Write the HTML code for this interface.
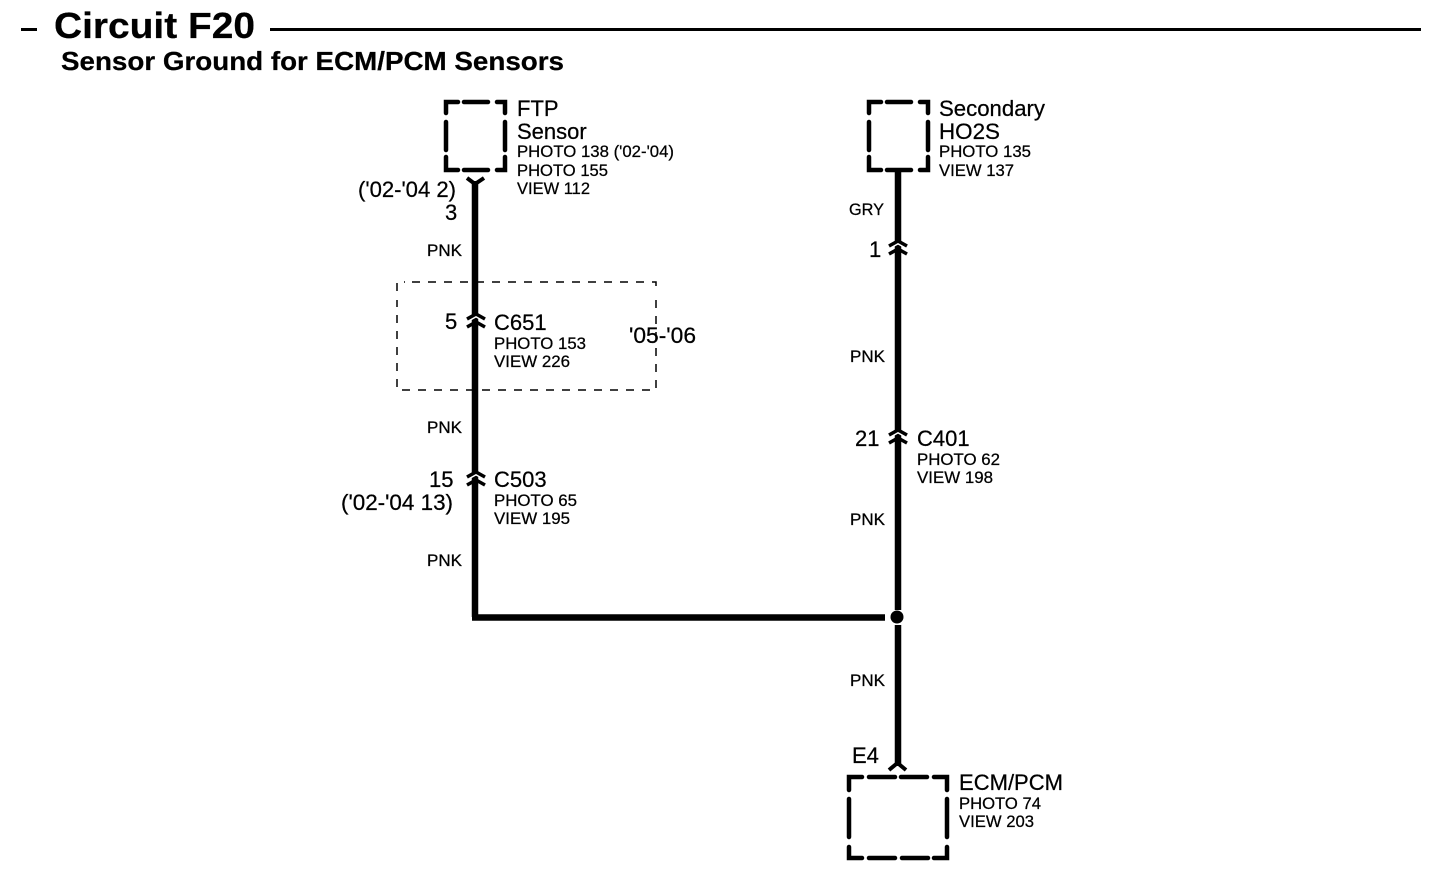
<!DOCTYPE html>
<html><head><meta charset="utf-8"><style>
html,body{margin:0;padding:0;background:#fff;width:1440px;height:882px;overflow:hidden}
svg{display:block}
text{font-family:"Liberation Sans",sans-serif;fill:#000;stroke:#000;stroke-width:.25}
.l{font-size:22px}
.s{font-size:16.500px}
.w{font-size:16.500px}
</style></head><body>
<svg width="1440" height="882" viewBox="0 0 1440 882" xmlns="http://www.w3.org/2000/svg">
<rect x="0" y="0" width="1440" height="882" fill="#fff"/>
<!-- header -->
<rect x="21" y="28" width="16" height="3" fill="#000"/>
<rect x="270" y="28" width="1151" height="3" fill="#000"/>
<text x="54" y="38" font-size="36" font-weight="700" textLength="201" lengthAdjust="spacingAndGlyphs">Circuit F20</text>
<text x="61" y="70" font-size="26" font-weight="700" textLength="503" lengthAdjust="spacingAndGlyphs">Sensor Ground for ECM/PCM Sensors</text>

<!-- dashed boxes -->
<g fill="none" stroke="#000" stroke-width="4.500" stroke-linecap="round">
<path d="M446 113V102H458M464 102H488M497 102H505V113M505 122V150M505 157V170H497M488 170H464M458 170H446V157M446 150V122"/>
<path d="M869 113V102H881M887 102H911M920 102H928V113M928 122V150M928 157V170H920M911 170H887M881 170H869V157M869 150V122"/>
<path d="M849 790V777H862M869 777H895M901 777H927M934 777H947V790M947 799V837M947 847V858H934M928 858H902M895 858H869M862 858H849V847M849 837V799"/>
</g>
<!-- thin dashed box -->
<path d="M397 291V282H405M412 282H656V291M656 300V390H397V300" fill="none" stroke="#000" stroke-width="1.500" stroke-dasharray="8 8"/>

<!-- wires -->
<g fill="none" stroke="#000" stroke-width="6.500">
<path d="M475 181V617"/>
<path d="M472 617.500H885"/>
<path d="M898 171V610"/>
<path d="M898 625V766"/>
</g>
<circle cx="897" cy="617" r="6.500" fill="#000"/>

<!-- connector glyphs -->
<g fill="none" stroke="#000" stroke-width="3.500">
<path d="M467 178L475 184L484 178" stroke-width="4"/>
<path d="M889 770L897.500 763L906 770" stroke-width="4"/>
<g stroke="#fff" stroke-width="3">
<path d="M467 321L476 316L485 321"/>
<path d="M467 479L476 474L485 479"/>
<path d="M889 248L898 243L907 248"/>
<path d="M889 437L898 432L907 437"/>
</g>
<path d="M467 319L476 314L485 319M467 327L476 322L485 327"/>
<path d="M467 477L476 472L485 477M467 485L476 480L485 485"/>
<path d="M889 246L898 241L907 246M889 254L898 249L907 254"/>
<path d="M889 435L898 430L907 435M889 443L898 438L907 443"/>
</g>

<!-- FTP labels -->
<text class="l" x="517" y="116">FTP</text>
<text class="l" x="517" y="139">Sensor</text>
<text class="s" x="517" y="157" textLength="157" lengthAdjust="spacingAndGlyphs">PHOTO 138 ('02-'04)</text>
<text class="s" x="517" y="176" textLength="91" lengthAdjust="spacingAndGlyphs">PHOTO 155</text>
<text class="s" x="517" y="194" textLength="73" lengthAdjust="spacingAndGlyphs">VIEW 112</text>
<text class="l" x="358" y="197" textLength="98" lengthAdjust="spacingAndGlyphs">('02-'04 2)</text>
<text class="l" x="445" y="220">3</text>
<text class="w" x="427" y="256" textLength="35" lengthAdjust="spacingAndGlyphs">PNK</text>

<!-- C651 -->
<text class="l" x="445" y="329">5</text>
<text class="l" x="494" y="330">C651</text>
<text class="s" x="494" y="349" textLength="92" lengthAdjust="spacingAndGlyphs">PHOTO 153</text>
<text class="s" x="494" y="367" textLength="76" lengthAdjust="spacingAndGlyphs">VIEW 226</text>
<text class="l" x="629" y="343" textLength="67" lengthAdjust="spacingAndGlyphs">'05-'06</text>
<text class="w" x="427" y="433" textLength="35" lengthAdjust="spacingAndGlyphs">PNK</text>

<!-- C503 -->
<text class="l" x="429" y="487">15</text>
<text class="l" x="494" y="487">C503</text>
<text class="s" x="494" y="506" textLength="83" lengthAdjust="spacingAndGlyphs">PHOTO 65</text>
<text class="s" x="494" y="524" textLength="76" lengthAdjust="spacingAndGlyphs">VIEW 195</text>
<text class="l" x="341" y="510" textLength="112" lengthAdjust="spacingAndGlyphs">('02-'04 13)</text>
<text class="w" x="427" y="566" textLength="35" lengthAdjust="spacingAndGlyphs">PNK</text>

<!-- Secondary -->
<text class="l" x="939" y="116" textLength="106" lengthAdjust="spacingAndGlyphs">Secondary</text>
<text class="l" x="939" y="139" textLength="61" lengthAdjust="spacingAndGlyphs">HO2S</text>
<text class="s" x="939" y="157" textLength="92" lengthAdjust="spacingAndGlyphs">PHOTO 135</text>
<text class="s" x="939" y="176" textLength="75" lengthAdjust="spacingAndGlyphs">VIEW 137</text>
<text class="w" x="849" y="215" textLength="35" lengthAdjust="spacingAndGlyphs">GRY</text>
<text class="l" x="869" y="257">1</text>
<text class="w" x="850" y="362" textLength="35" lengthAdjust="spacingAndGlyphs">PNK</text>

<!-- C401 -->
<text class="l" x="855" y="446">21</text>
<text class="l" x="917" y="446">C401</text>
<text class="s" x="917" y="465" textLength="83" lengthAdjust="spacingAndGlyphs">PHOTO 62</text>
<text class="s" x="917" y="483" textLength="76" lengthAdjust="spacingAndGlyphs">VIEW 198</text>
<text class="w" x="850" y="525" textLength="35" lengthAdjust="spacingAndGlyphs">PNK</text>
<text class="w" x="850" y="686" textLength="35" lengthAdjust="spacingAndGlyphs">PNK</text>

<!-- ECM -->
<text class="l" x="852" y="763">E4</text>
<text class="l" x="959" y="790" textLength="104" lengthAdjust="spacingAndGlyphs">ECM/PCM</text>
<text class="s" x="959" y="809" textLength="82" lengthAdjust="spacingAndGlyphs">PHOTO 74</text>
<text class="s" x="959" y="827" textLength="75" lengthAdjust="spacingAndGlyphs">VIEW 203</text>
</svg>
</body></html>
